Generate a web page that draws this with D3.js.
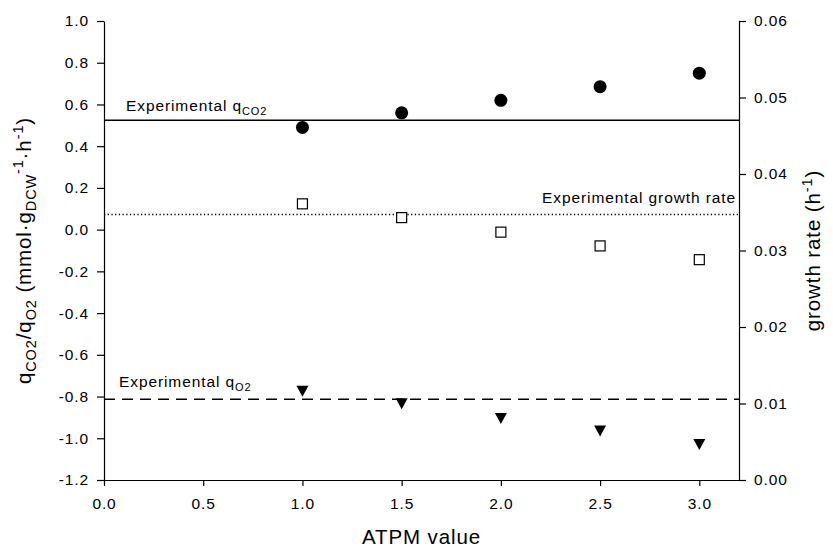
<!DOCTYPE html>
<html>
<head>
<meta charset="utf-8">
<title>ATPM value</title>
<style>
body { margin: 0; background: #fff; }
text { font-family: "Liberation Sans", Arial, sans-serif; font-size: 15.5px; letter-spacing: 0.9px; fill: #000; }
.axis path, .axis line { stroke: #000; stroke-width: 1.2px; }
</style>
</head>
<body>
<script src="https://d3js.org/d3.v7.min.js"></script>
<script>

// values
var atpm = [1.0, 1.5, 2.0, 2.5, 3.0];
var qCO2 = [0.49, 0.56, 0.62, 0.685, 0.75];
var qO2 = [-0.775, -0.835, -0.905, -0.965, -1.03];
var growth = [0.0361, 0.0343, 0.0324, 0.0306, 0.0288];

// experimental reference levels
var expQCO2 = 0.524;
var expQO2 = -0.813;
var expGrowth = 0.0347;

// tick labels
var xTicks = [0, 0.5, 1.0, 1.5, 2.0, 2.5, 3.0];
var leftTicks = [-1.2, -1.0, -0.8, -0.6, -0.4, -0.2, 0, 0.2, 0.4, 0.6, 0.8, 1.0];
var rightTicks = [0, 0.01, 0.02, 0.03, 0.04, 0.05, 0.06];

var margin = {top: 21, right: 94, bottom: 71, left: 104},
    width = 833 - margin.left - margin.right,
    height = 551 - margin.top - margin.bottom;

var x = d3.scaleLinear().domain([0, 3.2]).range([0, width]);
var y = d3.scaleLinear().domain([-1.2, 1.0]).range([height, 0]);
var yR = d3.scaleLinear().domain([0, 0.06]).range([height, 0]);

var svg = d3.select("body").append("svg")
    .attr("width", 833)
    .attr("height", 551)
  .append("g")
    .attr("transform", "translate(" + margin.left + "," + margin.top + ")");

function fmt(p) {
  var f = d3.format(p);
  return function(d) { return f(d).replace("\u2212", "-"); };
}

// axes
svg.append("g")
    .attr("class", "axis")
    .attr("transform", "translate(0," + height + ")")
    .call(d3.axisBottom(x).tickValues(xTicks).tickFormat(fmt(".1f"))
      .tickSize(6).tickSizeOuter(0).tickPadding(12));

svg.append("g")
    .attr("class", "axis")
    .call(d3.axisLeft(y).tickValues(leftTicks).tickFormat(fmt(".1f"))
      .tickSize(7).tickSizeOuter(0).tickPadding(8));

svg.append("g")
    .attr("class", "axis")
    .attr("transform", "translate(" + width + ",0)")
    .call(d3.axisRight(yR).tickValues(rightTicks).tickFormat(fmt(".2f"))
      .tickSize(7).tickSizeOuter(0).tickPadding(8));

// experimental lines
svg.append("line")
    .attr("x1", x(0)).attr("x2", x(3.2))
    .attr("y1", y(expQCO2)).attr("y2", y(expQCO2))
    .attr("stroke", "#000").attr("stroke-width", 1.5);

svg.append("line")
    .attr("x1", x(0)).attr("x2", x(3.2))
    .attr("y1", yR(expGrowth)).attr("y2", yR(expGrowth))
    .attr("stroke", "#000").attr("stroke-width", 1.5)
    .attr("stroke-dasharray", "1.3,2.4");

svg.append("line")
    .attr("x1", x(0)).attr("x2", x(3.2))
    .attr("y1", y(expQO2)).attr("y2", y(expQO2))
    .attr("stroke", "#000").attr("stroke-width", 1.5)
    .attr("stroke-dasharray", "11,7");

// text with sub/superscripts
function rich(sel, parts, small, sub, sup) {
  var shift = 0;
  parts.forEach(function(p) {
    var t = sel.append("tspan").text(p[0]);
    var want = p[1] == "sub" ? sub : p[1] == "sup" ? sup : 0;
    if (want != shift) t.attr("dy", want - shift);
    if (p[1]) t.attr("font-size", small);
    shift = want;
  });
}

rich(svg.append("text")
    .attr("x", x(0) + 22).attr("y", y(expQCO2) - 9),
  [["Experimental q"], ["CO2", "sub"]], "11px", 4, -6);

svg.append("text")
    .attr("x", x(3.2) - 3).attr("y", yR(expGrowth) - 12)
    .attr("text-anchor", "end")
    .text("Experimental growth rate");

rich(svg.append("text")
    .attr("x", x(0) + 15).attr("y", y(expQO2) - 12),
  [["Experimental q"], ["O2", "sub"]], "11px", 4, -6);

// data marks
var rows = atpm.map(function(a, i) {
  return {a: a, co2: qCO2[i], o2: qO2[i], g: growth[i]};
});

svg.selectAll(".co2")
    .data(rows)
  .enter().append("circle")
    .attr("class", "co2")
    .attr("cx", function(d) { return x(d.a); })
    .attr("cy", function(d) { return y(d.co2); })
    .attr("r", 6.5)
    .attr("fill", "#000");

svg.selectAll(".gr")
    .data(rows)
  .enter().append("rect")
    .attr("class", "gr")
    .attr("x", function(d) { return x(d.a) - 5; })
    .attr("y", function(d) { return yR(d.g) - 5; })
    .attr("width", 10).attr("height", 10)
    .attr("fill", "#fff").attr("stroke", "#000").attr("stroke-width", 1.2);

svg.selectAll(".o2")
    .data(rows)
  .enter().append("path")
    .attr("class", "o2")
    .attr("d", "M-6,-5.5L6,-5.5L0,5.5Z")
    .attr("transform", function(d) { return "translate(" + x(d.a) + "," + y(d.o2) + ")"; })
    .attr("fill", "#000");

// axis titles
svg.append("text")
    .attr("x", width / 2).attr("y", height + 64)
    .attr("text-anchor", "middle")
    .style("font-size", "20.5px")
    .text("ATPM value");

rich(svg.append("text")
    .attr("transform", "translate(" + (31 - margin.left) + "," + (height / 2) + ")rotate(-90)")
    .attr("text-anchor", "middle")
    .style("font-size", "20.5px"),
  [["q"], ["CO2", "sub"], ["/q"], ["O2", "sub"], [" (mmol\u00b7g"], ["DCW", "sub"], ["-1", "sup"], ["\u00b7h"], ["-1", "sup"], [")"]],
  "14.5px", 5, -8);

rich(svg.append("text")
    .attr("transform", "translate(" + (width + 81) + "," + (height / 2) + ")rotate(-90)")
    .attr("text-anchor", "middle")
    .style("font-size", "20.5px"),
  [["growth rate (h"], ["-1", "sup"], [")"]], "14.5px", 5, -8);

</script>
</body>
</html>
